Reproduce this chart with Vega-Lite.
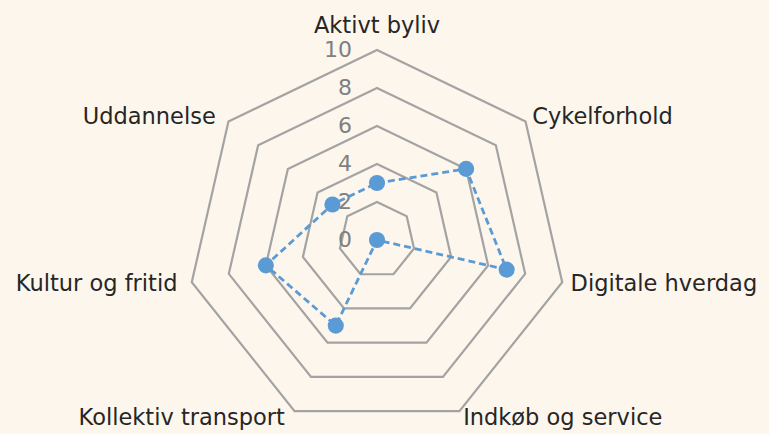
{
  "$schema": "https://vega.github.io/schema/vega-lite/v6.json",
  "width": 769,
  "height": 434,
  "autosize": {"type": "fit", "contains": "padding"},
  "padding": 0,
  "background": "#FDF6EC",
  "config": {"view": {"stroke": null}},
  "datasets": {
    "main": [
      {"category": "Aktivt byliv", "i": 0, "value": 3},
      {"category": "Cykelforhold", "i": 1, "value": 6},
      {"category": "Digitale hverdag", "i": 2, "value": 7},
      {"category": "Indkøb og service", "i": 3, "value": 0},
      {"category": "Kollektiv transport", "i": 4, "value": 5},
      {"category": "Kultur og fritid", "i": 5, "value": 6},
      {"category": "Uddannelse", "i": 6, "value": 3}
    ],
    "ticks": [
      {"level": 0}, {"level": 2}, {"level": 4}, {"level": 6}, {"level": 8}, {"level": 10}
    ],
    "grid": [
      {"level": 2, "i": 0}, {"level": 2, "i": 1}, {"level": 2, "i": 2}, {"level": 2, "i": 3}, {"level": 2, "i": 4}, {"level": 2, "i": 5}, {"level": 2, "i": 6},
      {"level": 4, "i": 0}, {"level": 4, "i": 1}, {"level": 4, "i": 2}, {"level": 4, "i": 3}, {"level": 4, "i": 4}, {"level": 4, "i": 5}, {"level": 4, "i": 6},
      {"level": 6, "i": 0}, {"level": 6, "i": 1}, {"level": 6, "i": 2}, {"level": 6, "i": 3}, {"level": 6, "i": 4}, {"level": 6, "i": 5}, {"level": 6, "i": 6},
      {"level": 8, "i": 0}, {"level": 8, "i": 1}, {"level": 8, "i": 2}, {"level": 8, "i": 3}, {"level": 8, "i": 4}, {"level": 8, "i": 5}, {"level": 8, "i": 6},
      {"level": 10, "i": 0}, {"level": 10, "i": 1}, {"level": 10, "i": 2}, {"level": 10, "i": 3}, {"level": 10, "i": 4}, {"level": 10, "i": 5}, {"level": 10, "i": 6}
    ]
  },
  "layer": [
    {
      "data": {"name": "grid"},
      "transform": [
        {"calculate": "datum.level * sin(datum.i * 2 * PI / 7)", "as": "x"},
        {"calculate": "datum.level * cos(datum.i * 2 * PI / 7)", "as": "y"}
      ],
      "mark": {"type": "line", "color": "#A3A3A3", "strokeWidth": 2.2, "interpolate": "linear-closed"},
      "encoding": {
        "x": {"field": "x", "type": "quantitative", "scale": {"domain": [-19.842, 20.632], "nice": false, "zero": false}, "axis": null},
        "y": {"field": "y", "type": "quantitative", "scale": {"domain": [-10.211, 12.632], "nice": false, "zero": false}, "axis": null},
        "detail": {"field": "level"},
        "order": {"field": "i"}
      }
    },
    {
      "data": {"name": "ticks"},
      "mark": {"type": "text", "align": "right", "baseline": "middle", "dx": -25, "fontSize": 22, "font": "DejaVu Sans", "color": "#808080"},
      "encoding": {
        "x": {"datum": 0, "type": "quantitative"},
        "y": {"field": "level", "type": "quantitative"},
        "text": {"field": "level", "type": "quantitative"}
      }
    },
    {
      "data": {"name": "main"},
      "transform": [
        {"calculate": "datum.value * sin(datum.i * 2 * PI / 7)", "as": "x"},
        {"calculate": "datum.value * cos(datum.i * 2 * PI / 7)", "as": "y"}
      ],
      "layer": [
        {
          "mark": {"type": "line", "color": "#5B9BD5", "strokeWidth": 2.8, "strokeDash": [7, 4], "interpolate": "linear-closed"},
          "encoding": {
            "x": {"field": "x", "type": "quantitative"},
            "y": {"field": "y", "type": "quantitative"},
            "order": {"field": "i"}
          }
        },
        {
          "mark": {"type": "point", "filled": true, "size": 260, "color": "#5B9BD5", "opacity": 1},
          "encoding": {
            "x": {"field": "x", "type": "quantitative"},
            "y": {"field": "y", "type": "quantitative"}
          }
        }
      ]
    },
    {
      "data": {"name": "main"},
      "transform": [
        {"calculate": "10.45 * sin(datum.i * 2 * PI / 7)", "as": "lx"},
        {"calculate": "(datum.i == 0 ? 10.9 : 10.4) * cos(datum.i * 2 * PI / 7)", "as": "ly"}
      ],
      "layer": [
        {
          "transform": [{"filter": "datum.i == 0"}],
          "mark": {"type": "text", "align": "center", "baseline": "alphabetic", "fontSize": 22.5, "font": "DejaVu Sans", "color": "#262626"},
          "encoding": {
            "x": {"field": "lx", "type": "quantitative"},
            "y": {"field": "ly", "type": "quantitative"},
            "text": {"field": "category"}
          }
        },
        {
          "transform": [{"filter": "datum.i >= 1 && datum.i <= 3"}],
          "mark": {"type": "text", "align": "left", "baseline": "middle", "fontSize": 22.5, "font": "DejaVu Sans", "color": "#262626"},
          "encoding": {
            "x": {"field": "lx", "type": "quantitative"},
            "y": {"field": "ly", "type": "quantitative"},
            "text": {"field": "category"}
          }
        },
        {
          "transform": [{"filter": "datum.i >= 4"}],
          "mark": {"type": "text", "align": "right", "baseline": "middle", "dx": -6, "fontSize": 22.5, "font": "DejaVu Sans", "color": "#262626"},
          "encoding": {
            "x": {"field": "lx", "type": "quantitative"},
            "y": {"field": "ly", "type": "quantitative"},
            "text": {"field": "category"}
          }
        }
      ]
    }
  ]
}
